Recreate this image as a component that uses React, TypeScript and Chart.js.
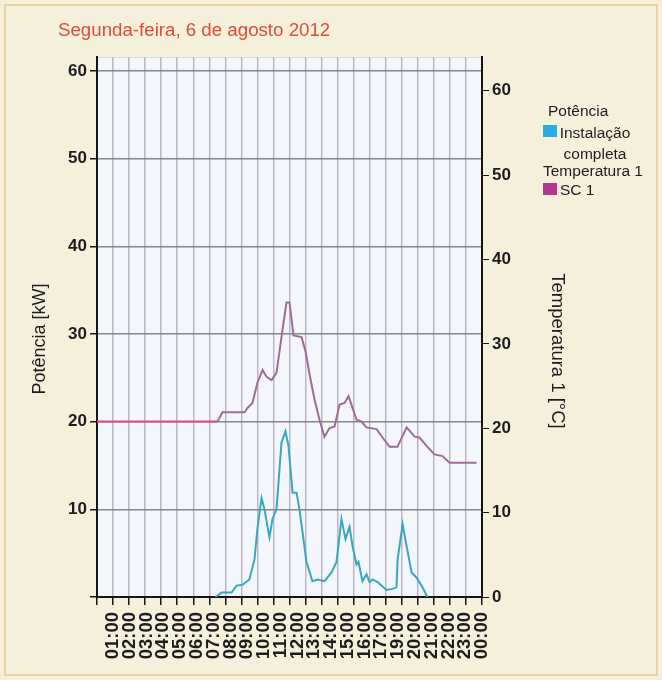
import React, { useEffect, useRef } from "react";
import { Chart, registerables } from "chart.js";

Chart.register(...registerables);

// Hour labels printed under the time axis
const hourLabels = [
  "01:00", "02:00", "03:00", "04:00", "05:00", "06:00", "07:00", "08:00",
  "09:00", "10:00", "11:00", "12:00", "13:00", "14:00", "15:00", "16:00",
  "17:00", "19:00", "20:00", "21:00", "22:00", "23:00", "00:00",
];

// Power of the whole installation (kW), by hour of day
const powerHours = [
  7.39, 7.76, 8.39, 8.7, 9.07, 9.5, 9.82, 10.0, 10.26, 10.44, 10.75, 10.94,
  11.19, 11.5, 11.75, 11.94, 12.19, 12.44, 12.62, 13.06, 13.43, 13.75, 14.18,
  14.62, 14.93, 15.24, 15.49, 15.74, 15.93, 16.18, 16.3, 16.55, 16.8, 16.99,
  17.18, 17.49, 17.8, 18.05, 18.36, 18.67, 18.74, 19.05, 19.3, 19.61, 19.92,
  20.29, 20.6,
];
const powerKW = [
  0, 0.5, 0.5, 1.3, 1.4, 2.0, 4.3, 7.8, 11.3, 10.0, 6.8, 8.9,
  10.0, 17.6, 18.9, 17.2, 11.9, 11.9, 10.0, 4.0, 1.8, 2.0, 1.8,
  2.8, 4.0, 8.9, 6.6, 8.0, 5.8, 3.7, 4.0, 1.8, 2.6, 1.7,
  2.0, 1.7, 1.2, 0.8, 0.9, 1.1, 4.3, 8.3, 5.8, 2.8, 2.2,
  1.1, 0,
];

// Temperature of SC 1 (°C), by hour of day
const tempHours = [
  0, 7.51, 7.82, 9.2, 9.38, 9.69, 10.0, 10.32, 10.57, 10.88, 11.19, 11.5,
  11.81, 12.0, 12.25, 12.75, 13.0, 13.25, 13.56, 13.87, 14.18, 14.49, 14.81,
  15.12, 15.43, 15.68, 16.18, 16.49, 16.8, 17.43, 17.8, 18.24, 18.73, 19.3,
  19.8, 20.1, 20.6, 21.04, 21.54, 21.98, 23.66,
];
const tempC = [
  20.8, 20.8, 21.9, 21.9, 22.4, 23.0, 25.4, 26.9, 26.1, 25.7, 26.6, 30.8,
  34.9, 34.9, 31.0, 30.8, 29.1, 26.4, 23.4, 21.0, 19.0, 20.0, 20.2,
  22.8, 23.0, 23.8, 21.0, 20.8, 20.1, 19.9, 18.9, 17.8, 17.8, 20.1,
  19.0, 18.9, 17.8, 16.9, 16.7, 15.9, 15.9,
];

const powerTicksMax = 61.6;
const tempTicksMax = 64;

const W = 662;
const H = 680;
const FONT = "'Liberation Sans', Arial, Helvetica, sans-serif";
const INK = "#1d1d1d";

const plotBackground = {
  id: "plotBackground",
  beforeDraw(chart: any) {
    const { ctx, chartArea: a } = chart;
    ctx.save();
    ctx.fillStyle = "#f3f7fb";
    ctx.fillRect(a.left, a.top, a.right - a.left, a.bottom - a.top);
    ctx.strokeStyle = "#d9dde3";
    ctx.lineWidth = 1;
    ctx.beginPath();
    ctx.moveTo(a.left, a.top + 0.5);
    ctx.lineTo(a.right, a.top + 0.5);
    ctx.stroke();
    ctx.restore();
  },
};

const axisTitles = {
  id: "axisTitles",
  afterDraw(chart: any) {
    const { ctx } = chart;
    ctx.save();
    ctx.fillStyle = INK;
    ctx.textAlign = "center";
    ctx.textBaseline = "middle";

    ctx.save();
    ctx.font = `18px ${FONT}`;
    ctx.translate(40, 339);
    ctx.rotate(-Math.PI / 2);
    ctx.fillText("Potência [kW]", 0, 0);
    ctx.restore();

    ctx.save();
    ctx.font = `18.5px ${FONT}`;
    ctx.translate(557, 351);
    ctx.rotate(Math.PI / 2);
    ctx.fillText("Temperatura 1 [°C]", 0, 0);
    ctx.restore();

    ctx.restore();
  },
};

function PowerTemperatureChart() {
  const canvasRef = useRef<HTMLCanvasElement | null>(null);

  useEffect(() => {
    const canvas = canvasRef.current;
    if (!canvas) return;
    const tickFont = { family: FONT, size: 17, weight: "bold" as const };
    const hourFont = { family: FONT, size: 18.5, weight: "bold" as const };

    const chart = new Chart(canvas, {
      type: "line",
      data: {
        datasets: [
          {
            label: "Instalação completa",
            data: powerHours.map((h, i) => ({ x: h, y: powerKW[i] })),
            xAxisID: "x",
            yAxisID: "y",
            borderColor: "#3aa7be",
            borderWidth: 2,
            pointRadius: 0,
            tension: 0,
            fill: false,
          },
          {
            label: "SC 1",
            data: tempHours.map((h, i) => ({ x: h, y: tempC[i] })),
            xAxisID: "x",
            yAxisID: "y1",
            borderColor: "#a06c97",
            borderWidth: 2,
            pointRadius: 0,
            tension: 0,
            fill: false,
            segment: {
              borderColor: (c: any) => (c.p0DataIndex === 0 ? "#e0498c" : undefined),
            },
          },
        ],
      },
      options: {
        responsive: false,
        maintainAspectRatio: false,
        animation: false,
        layout: { padding: { top: 57, left: 0, right: 0, bottom: 0 } },
        plugins: {
          legend: { display: false },
          tooltip: { enabled: false },
          title: { display: false },
        },
        scales: {
          x: {
            type: "linear",
            position: "bottom",
            weight: 0,
            min: 0,
            max: 24,
            ticks: { display: false, stepSize: 1 },
            grid: {
              color: "#bcb5c7",
              lineWidth: 1.5,
              tickColor: "#151515",
              tickLength: 8,
              drawTicks: true,
            },
            border: { display: true, color: "#151515", width: 2 },
            afterFit: (s: any) => {
              s.height = 10;
            },
          },
          xl: {
            type: "linear",
            position: "bottom",
            weight: 1,
            min: 0,
            max: 24,
            afterBuildTicks: (s: any) => {
              const n = hourLabels.length;
              s.ticks = hourLabels.map((_, i) => ({ value: 1 + (i * 23) / (n - 1) }));
            },
            ticks: {
              autoSkip: false,
              minRotation: 90,
              maxRotation: 90,
              padding: 5,
              color: INK,
              font: hourFont,
              callback: (_v: any, i: number) => hourLabels[i],
            },
            grid: { display: false, drawTicks: false },
            border: { display: false },
            afterFit: (s: any) => {
              s.height = 73;
            },
          },
          y: {
            type: "linear",
            position: "left",
            min: 0,
            max: powerTicksMax,
            ticks: {
              stepSize: 10,
              includeBounds: false,
              padding: 3,
              color: INK,
              font: tickFont,
              callback: (v: any) => (v === 0 ? "" : v),
            },
            grid: {
              color: "#888888",
              lineWidth: 1.5,
              tickColor: "#151515",
              tickLength: 7,
            },
            border: { display: true, color: "#151515", width: 2 },
            afterFit: (s: any) => {
              s.width = 97;
            },
          },
          y1: {
            type: "linear",
            position: "right",
            min: 0,
            max: tempTicksMax,
            ticks: {
              stepSize: 10,
              includeBounds: false,
              padding: 3,
              color: INK,
              font: tickFont,
            },
            grid: {
              drawOnChartArea: false,
              tickColor: "#151515",
              tickLength: 7,
            },
            border: { display: true, color: "#151515", width: 2 },
            afterFit: (s: any) => {
              s.width = 180;
            },
          },
        },
      } as any,
      plugins: [plotBackground, axisTitles],
    });

    return () => chart.destroy();
  }, []);

  return (
    <canvas
      ref={canvasRef}
      width={W}
      height={H}
      style={{ position: "absolute", left: 0, top: 0, width: W, height: H }}
    />
  );
}

const legendText: React.CSSProperties = {
  position: "absolute",
  fontFamily: FONT,
  fontSize: 15.5,
  color: INK,
  lineHeight: "18px",
  whiteSpace: "nowrap",
};

export default function App() {
  return (
    <div
      style={{
        position: "absolute",
        left: 0,
        top: 0,
        width: W,
        height: H,
        background: "#f5f0da",
        overflow: "hidden",
      }}
    >
      <div
        style={{
          position: "absolute",
          left: 4,
          top: 4,
          right: 4,
          bottom: 4,
          border: "2px solid #ecd29f",
        }}
      />
      <PowerTemperatureChart />
      <div
        style={{
          position: "absolute",
          left: 58,
          top: 19,
          fontFamily: FONT,
          fontSize: 18.7,
          color: "#e04b3b",
          whiteSpace: "nowrap",
          lineHeight: "22px",
        }}
      >
        Segunda-feira, 6 de agosto 2012
      </div>

      <div style={{ ...legendText, left: 548, top: 102 }}>Potência</div>
      <div
        style={{
          position: "absolute",
          left: 543,
          top: 125,
          width: 14,
          height: 12,
          background: "#29ade6",
        }}
      />
      <div style={{ ...legendText, left: 556, top: 122, width: 78, textAlign: "center", lineHeight: "21px", whiteSpace: "normal" }}>
        Instalação completa
      </div>
      <div style={{ ...legendText, left: 543, top: 162 }}>Temperatura 1</div>
      <div
        style={{
          position: "absolute",
          left: 543,
          top: 183,
          width: 14,
          height: 12,
          background: "#b3368f",
        }}
      />
      <div style={{ ...legendText, left: 560, top: 181 }}>SC 1</div>
    </div>
  );
}
